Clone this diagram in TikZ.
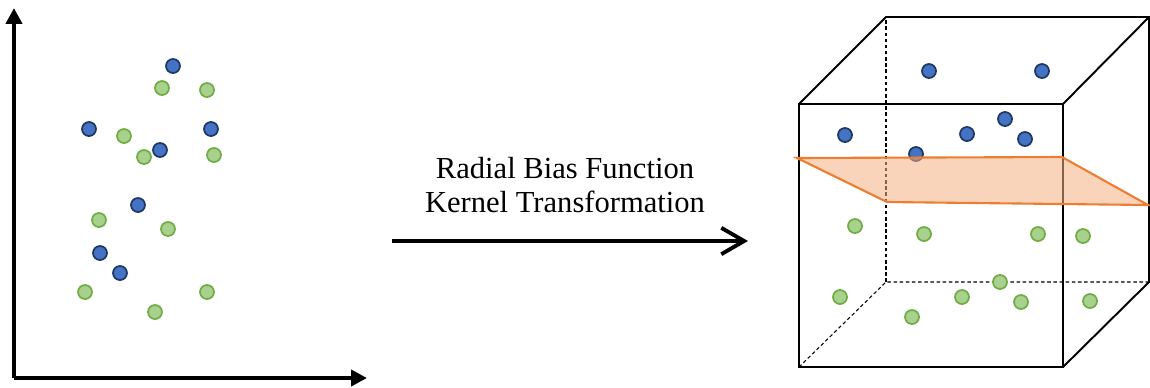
\documentclass[tikz,border=0pt]{standalone}
\usepackage{fontspec}
\setmainfont{Liberation Serif}
\usepackage{xcolor}
\usetikzlibrary{arrows.meta}

\definecolor{dotblue}{HTML}{4472C4}
\definecolor{dotblueline}{HTML}{203864}
\definecolor{dotgreen}{HTML}{A9D18E}
\definecolor{dotgreenline}{HTML}{70AD47}
\definecolor{planefill}{HTML}{F4B183}
\definecolor{planeline}{HTML}{ED7D31}

\tikzset{
    bluedot/.style={fill=dotblue, draw=dotblueline, line width=1pt},
    greendot/.style={fill=dotgreen, draw=dotgreenline, line width=1pt},
    axisline/.style={line width=2.5pt, -{Triangle[length=9pt,width=9pt]}},
    cubeedge/.style={line width=1.1pt},
    hiddenedge/.style={line width=0.6pt, dash pattern=on 2pt off 1.5pt},
}

\begin{document}
\begin{tikzpicture}[x=0.02cm, y=-0.02cm]
        \useasboundingbox (0,0) rectangle (1150,387);
        % the axes of the input space
        \coordinate (origin) at (14,378);
        \coordinate (ytip) at (14,8);
        \coordinate (xtip) at (367,378);
        \draw[axisline] (origin) -- (ytip);
        \draw[axisline] (origin) -- (xtip);
        % the points in the input space
        \foreach \px/\py in {173/66, 89/129, 211/129, 160/150, 138/205, 100/253, 120/273}
            \filldraw[bluedot] (\px,\py) circle (7);
        \foreach \px/\py in {162/88, 207/90, 124/136, 144/157, 214/155, 99/220, 168/229, 85/292, 207/292, 155/312}
            \filldraw[greendot] (\px,\py) circle (7);
        % the transformation
        \node[font=\fontsize{17.4}{19.8}\selectfont, align=center] (label) at (565,185)
            {Radial Bias Function\\Kernel Transformation};
        \coordinate (mapfrom) at (392,241);
        \coordinate (mapto) at (748,241);
        \draw[line width=2.2pt, -{Straight Barb[length=13pt,width=15pt,line width=2.2pt]}] (mapfrom) -- (mapto);
        % the cube: front face and back face corners
        \coordinate (fbl) at (799,367);
        \coordinate (fbr) at (1063,367);
        \coordinate (ftr) at (1063,104);
        \coordinate (ftl) at (799,104);
        \coordinate (bbl) at (886,282);
        \coordinate (bbr) at (1149,282);
        \coordinate (btr) at (1149,17);
        \coordinate (btl) at (886,17);
        \draw[hiddenedge] (fbl) -- (bbl) -- (bbr);
        \draw[hiddenedge] (bbl) -- (btl);
        \draw[cubeedge] (fbl) -- (fbr) -- (ftr) -- (ftl) -- cycle;
        \draw[cubeedge] (ftl) -- (btl) -- (btr) -- (ftr);
        \draw[cubeedge] (btr) -- (bbr) -- (fbr);
        % the points in the feature space
        \foreach \px/\py in {929/71, 1042/71, 845/135, 967/134, 1005/119, 1025/139, 916/154}
            \filldraw[bluedot] (\px,\py) circle (7);
        \foreach \px/\py in {855/226, 924/234, 1038/234, 1083/236, 840/297, 962/297, 1000/282, 1021/302, 1090/301, 912/317}
            \filldraw[greendot] (\px,\py) circle (7);
        % the separating plane
        \draw[planeline, line width=1.2pt, fill=planefill, fill opacity=0.55]
            (797,158) -- (1062,157) -- (1148,205) -- (887,202) -- cycle;
    \end{tikzpicture}
\end{document}
